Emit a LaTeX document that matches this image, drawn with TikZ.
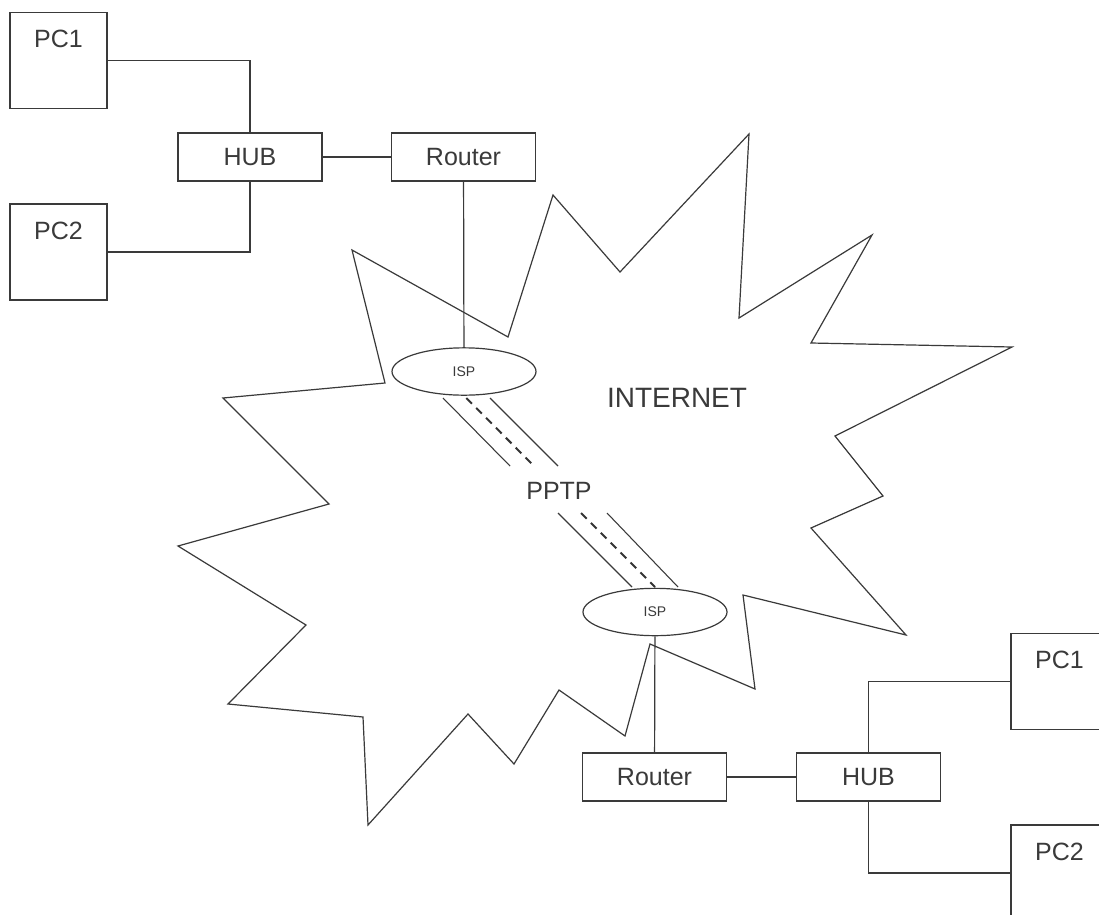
\documentclass[tikz,border=0pt]{standalone}
\usepackage{fontspec}
\setmainfont{Liberation Sans}
\usetikzlibrary{shapes.geometric}
\definecolor{ink}{HTML}{3A3A3A}
\begin{document}
\begin{tikzpicture}[x=0.75pt,y=-0.75pt,
  wire/.style={draw=ink,line width=0.9pt},
  devbox/.style={draw=ink,line width=0.9pt,fill=white,inner sep=0pt,
    minimum width=108pt,minimum height=36pt,text=ink,
    font=\fontsize{18.75}{22}\selectfont},
  pcbox/.style={draw=ink,line width=0.9pt,fill=white,inner sep=0pt,
    minimum width=72.75pt,minimum height=72pt},
  pclabel/.style={anchor=base,yshift=-27pt,text=ink,inner sep=0pt,
    font=\fontsize{18.75}{22}\selectfont},
  isp/.style={ellipse,draw=ink,line width=0.9pt,fill=white,inner sep=0pt,
    minimum width=108pt,minimum height=35.5pt,text=ink,
    font=\fontsize{10.5}{12}\selectfont},
  tunnel/.style={draw=ink,line width=0.8pt},
  tunnelmid/.style={draw=ink!90!black,line width=1.5pt,dash pattern=on 6pt off 4.5pt}]

\clip (0,0) rectangle (1099,914);
\fill[white] (0,0) rectangle (1099,914);

% Internet cloud outline
\draw[wire]
  (749,134) -- (739,318) -- (872,235) -- (811,343) -- (1012,347) --
  (835,436) -- (883,496) -- (811,528) -- (906,635) -- (743,595) --
  (755,689) -- (650,644) -- (625,736) -- (559,690) -- (514,764) --
  (468,714) -- (368,825) -- (363,717) -- (228,704) -- (306,625) --
  (178,546) -- (329,504) -- (223,398) -- (385,383) -- (352,250) --
  (508,337) -- (553,195) -- (620,272) -- cycle;

\node[text=ink,font=\fontsize{21}{24}\selectfont] (inet) at (677,398) {INTERNET};
\node[text=ink,font=\fontsize{18.75}{22}\selectfont] (pptp) at (559,491) {PPTP};

% Left site
\node[pcbox,label={[pclabel]north:PC1}] (pc1a) at (58.5,60.5) {};
\node[pcbox,label={[pclabel]north:PC2}] (pc2a) at (58.5,252) {};
\node[devbox] (huba) at (250,157) {HUB};
\node[devbox] (routera) at (463.5,157) {Router};
\node[isp] (ispa) at (464,371.5) {ISP};

% Right site
\node[isp] (ispb) at (655,612) {ISP};
\node[devbox] (routerb) at (654.5,777) {Router};
\node[devbox] (hubb) at (868.5,777) {HUB};
\node[pcbox,label={[pclabel]north:PC1}] (pc1b) at (1059.5,681.5) {};
\node[pcbox,label={[pclabel]north:PC2}] (pc2b) at (1059.5,873) {};

% LAN wiring
\draw[wire] (pc1a.east) -| (huba.north);
\draw[wire] (pc2a.east) -| (huba.south);
\draw[wire] (huba) -- (routera);
\draw[wire] (routera) -- (ispa);
\draw[wire] (ispb) -- (routerb);
\draw[wire] (routerb) -- (hubb);
\draw[wire] (hubb.north) |- (pc1b.west);
\draw[wire] (hubb.south) |- (pc2b.west);

% PPTP tunnel between the two ISPs
\coordinate (t1) at (443,398);
\coordinate (t2) at (510,466);
\coordinate (t3) at (558,513);
\coordinate (t4) at (632,587);
\draw[tunnel] (t1) -- (t2);
\draw[tunnel] ([xshift=35.25pt]t1) -- ([xshift=36pt]t2);
\draw[tunnelmid] ([xshift=17.5pt]t1) -- ([xshift=18pt]t2);
\draw[tunnel] (t3) -- (t4);
\draw[tunnel] ([xshift=36.75pt]t3) -- ([xshift=34.5pt]t4);
\draw[tunnelmid] ([xshift=17.25pt]t3) -- ([xshift=17.25pt]t4);

\end{tikzpicture}
\end{document}
